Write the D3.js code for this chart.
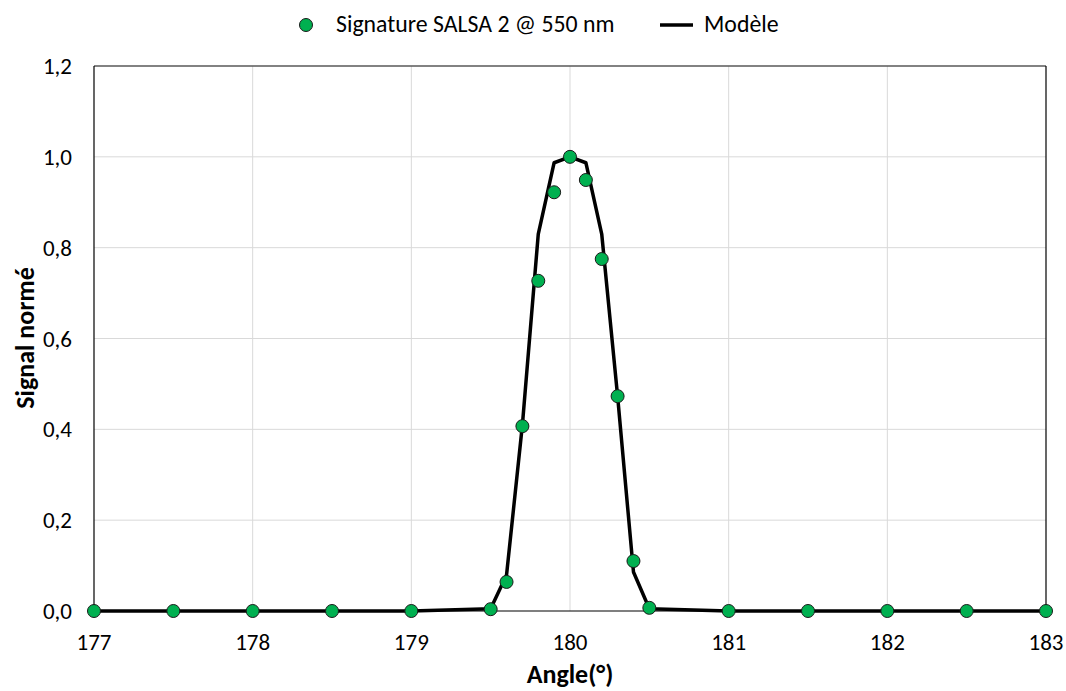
<!DOCTYPE html>
<html><head><meta charset="utf-8">
<script src="https://cdn.jsdelivr.net/npm/d3@7"></script>
<style>body{margin:0;background:#fff;} text{font-family:Carlito,Lato,sans-serif;fill:#000;}</style>
</head><body>
<svg id="c" width="1066" height="691"></svg>
<script>
const dataX = [177,177.5,178,178.5,179,179.5,179.6,179.7,179.8,179.9,180,180.1,180.2,180.3,180.4,180.5,181,181.5,182,182.5,183];
const dataY = [0,0,0,0,0,0.004,0.064,0.407,0.727,0.922,1.0,0.949,0.775,0.473,0.11,0.007,0,0,0,0,0];
const modelX = [177,177.5,178,178.5,179,179.5,179.6,179.7,179.8,179.9,180,180.1,180.2,180.3,180.4,180.5,181,181.5,182,182.5,183];
const modelY = [0,0,0,0,0,0.005,0.079,0.41,0.83,0.987,1.0,0.987,0.83,0.473,0.086,0.005,0,0,0,0,0];
const xTicks = [177,178,179,180,181,182,183];
const yTicks = [0,0.2,0.4,0.6,0.8,1.0,1.2];

const svg = d3.select("#c");
const L=94,R=1046,T=66,B=611;
const x = d3.scaleLinear().domain([177,183]).range([L,R]);
const y = d3.scaleLinear().domain([0,1.2]).range([B,T]);
const fmt = d => d3.format(".1f")(d).replace(".",",");

// gridlines
svg.append("g").selectAll("line").data(xTicks.slice(1,-1)).join("line")
  .attr("x1",d=>x(d)).attr("x2",d=>x(d)).attr("y1",T).attr("y2",B)
  .attr("stroke","#d9d9d9").attr("stroke-width",1);
svg.append("g").selectAll("line").data(yTicks.slice(1,-1)).join("line")
  .attr("x1",L).attr("x2",R).attr("y1",d=>y(d)).attr("y2",d=>y(d))
  .attr("stroke","#d9d9d9").attr("stroke-width",1);
// border
svg.append("line").attr("x1",L).attr("x2",R).attr("y1",T).attr("y2",T).attr("stroke","#595959").attr("stroke-width",1.5);
svg.append("line").attr("x1",R).attr("x2",R).attr("y1",T).attr("y2",B).attr("stroke","#000").attr("stroke-width",1.2);
svg.append("line").attr("x1",L).attr("x2",L).attr("y1",T).attr("y2",B).attr("stroke","#000").attr("stroke-width",1.2);
svg.append("line").attr("x1",L).attr("x2",R).attr("y1",B).attr("y2",B).attr("stroke","#000").attr("stroke-width",1.2);

// tick labels
svg.append("g").selectAll("text").data(yTicks).join("text")
  .attr("x",72).attr("y",d=>y(d)+8).attr("text-anchor","end").attr("font-size",23).text(fmt);
svg.append("g").selectAll("text").data(xTicks).join("text")
  .attr("x",d=>x(d)).attr("y",650).attr("text-anchor","middle").attr("font-size",23).text(d=>d);

// titles
svg.append("text").attr("x",570).attr("y",683).attr("text-anchor","middle").attr("font-size",26).attr("font-weight","bold").text("Angle(°)");
svg.append("text").attr("transform","translate(34,338) rotate(-90)").attr("text-anchor","middle").attr("font-size",26).attr("font-weight","bold").text("Signal normé");

// model line
const pts = modelX.map((d,i)=>[d,modelY[i]]);
svg.append("path").datum(pts)
  .attr("d",d3.line().x(d=>x(d[0])).y(d=>y(d[1])))
  .attr("fill","none").attr("stroke","#000").attr("stroke-width",3.5).attr("stroke-linejoin","round");

// data points
svg.append("g").selectAll("circle").data(dataX.map((d,i)=>[d,dataY[i]])).join("circle")
  .attr("cx",d=>x(d[0])).attr("cy",d=>y(d[1])).attr("r",6.5)
  .attr("fill","#00b050").attr("stroke","#1a1a1a").attr("stroke-width",1);

// legend
svg.append("circle").attr("cx",306).attr("cy",25).attr("r",6.5).attr("fill","#00b050").attr("stroke","#1a1a1a").attr("stroke-width",1);
svg.append("text").attr("x",336).attr("y",32).attr("font-size",23.8).text("Signature SALSA 2 @ 550 nm");
svg.append("line").attr("x1",660).attr("x2",693).attr("y1",25).attr("y2",25).attr("stroke","#000").attr("stroke-width",3.5);
svg.append("text").attr("x",704).attr("y",32).attr("font-size",23.8).text("Modèle");
</script>
</body></html>
